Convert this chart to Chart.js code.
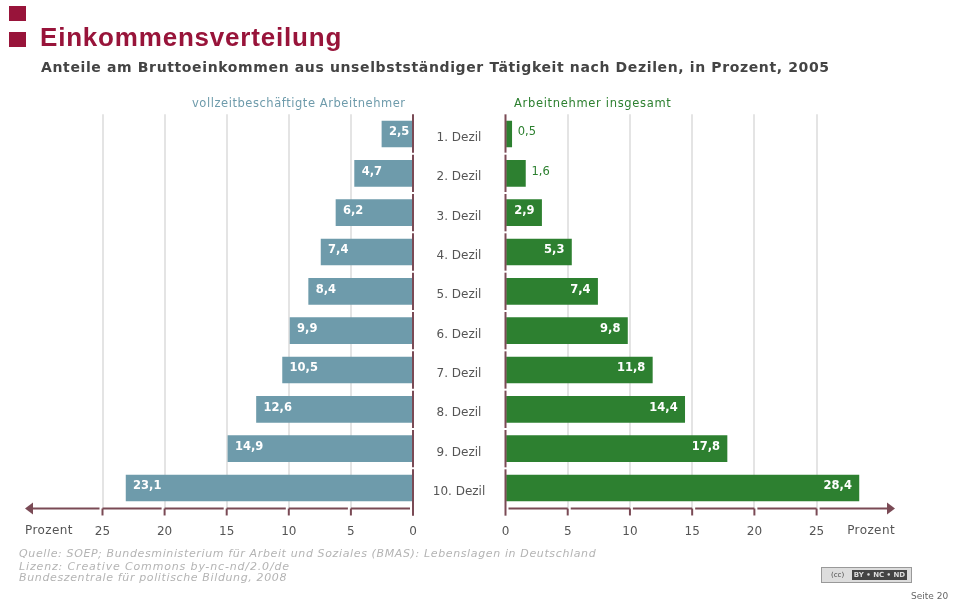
<!DOCTYPE html>
<html lang="de">
<head>
<meta charset="utf-8">
<title>Einkommensverteilung</title>
<script src="https://cdn.jsdelivr.net/npm/chart.js@4/dist/chart.umd.min.js"></script>
<style>
  html, body { margin: 0; padding: 0; background: #fff; }
  #page { position: relative; width: 953px; height: 602px; overflow: hidden; font-family: "DejaVu Sans", sans-serif; filter: blur(0.6px); }
  #page > * { position: absolute; white-space: nowrap; }
  .square { left: 9px; width: 17px; height: 15px; background: #98143a; }
  #title { left: 40px; top: 22px; font: bold 26px "Liberation Sans", sans-serif; letter-spacing: 0.8px; color: #98143a; }
  #subtitle { left: 41px; top: 59px; font-weight: bold; font-size: 14px; letter-spacing: 0.63px; color: #444; }
  .head { top: 96px; font-size: 11.5px; letter-spacing: 0.55px; }
  .source { left: 19px; font-style: italic; font-size: 11px; letter-spacing: 0.63px; color: #b4b4b4; }
  #badge { left: 821px; top: 567px; width: 89px; height: 14px; border: 1px solid #999; background: #ddd; font-size: 7px; line-height: 14px; color: #444; }
  #badge b { position: absolute; left: 30px; top: 2px; width: 55px; height: 10px; line-height: 10px; background: #444; color: #ddd; text-align: center; }
  #badge span { position: absolute; left: 9px; top: 0; }
  #page_no { left: 911px; top: 591px; font-size: 9px; color: #666; }
  canvas { display: block; }
</style>
</head>
<body>
<div id="page">
  <div class="square" style="top:6px"></div>
  <div class="square" style="top:32px"></div>
  <div id="title">Einkommensverteilung</div>
  <div id="subtitle">Anteile am Bruttoeinkommen aus unselbstständiger Tätigkeit nach Dezilen, in Prozent, 2005</div>
  <div class="head" style="left:192px;color:#6e9bab">vollzeitbeschäftigte Arbeitnehmer</div>
  <div class="head" style="left:514px;color:#2d8030;letter-spacing:0.68px">Arbeitnehmer insgesamt</div>
  <canvas id="rightChart" width="493" height="440" style="position:absolute;left:460px;top:100px"></canvas>
  <canvas id="leftChart" width="495" height="440" style="position:absolute;left:0;top:100px"></canvas>
  <div class="source" style="top:547px">Quelle: SOEP; Bundesministerium für Arbeit und Soziales (BMAS): Lebenslagen in Deutschland</div>
  <div class="source" style="top:560px;letter-spacing:0.85px">Lizenz: Creative Commons by-nc-nd/2.0/de</div>
  <div class="source" style="top:571px">Bundeszentrale für politische Bildung, 2008</div>
  <div id="badge"><span>(cc)</span><b>BY • NC • ND</b></div>
  <div id="page_no">Seite 20</div>
</div>
<script>
const deciles = ['1. Dezil', '2. Dezil', '3. Dezil', '4. Dezil', '5. Dezil', '6. Dezil', '7. Dezil', '8. Dezil', '9. Dezil', '10. Dezil'];
const fullTime = [2.5, 4.7, 6.2, 7.4, 8.4, 9.9, 10.5, 12.6, 14.9, 23.1];
const allEmployees = [0.5, 1.6, 2.9, 5.3, 7.4, 9.8, 11.8, 14.4, 17.8, 28.4];
const tickValues = [0, 5, 10, 15, 20, 25];
const axisUnit = 'Prozent';

const MAROON = '#7a4a55';
const BLUE = '#6e9bab';
const GREEN = '#2d8030';

// axis lines, arrows, value labels and decile names are not built in, so draw them here
const decorate = {
  id: 'decorate',
  afterDatasetsDraw(chart, args, opts) {
    const ctx = chart.ctx;
    const x = chart.scales.x;
    const y = chart.scales.y;
    const area = chart.chartArea;
    const dir = opts.side === 'left' ? -1 : 1;
    const axisY = area.bottom + 0.8;
    ctx.save();
    ctx.strokeStyle = MAROON;
    ctx.fillStyle = MAROON;
    ctx.lineWidth = 2;

    // zero line with small gaps between the bands
    const zero = x.getPixelForValue(0);
    let from = area.top;
    deciles.forEach((d, i) => {
      const to = i < deciles.length - 1 ? (y.getPixelForValue(i) + y.getPixelForValue(i + 1)) / 2 - 1 : area.bottom + 8;
      ctx.beginPath();
      ctx.moveTo(zero, from);
      ctx.lineTo(zero, to);
      ctx.stroke();
      from = to + 2;
    });

    // tick marks and the pieces of the axis
    tickValues.forEach((t, i) => {
      const px = x.getPixelForValue(t);
      if (t > 0) {
        ctx.beginPath();
        ctx.moveTo(px, axisY);
        ctx.lineTo(px, axisY + 7);
        ctx.stroke();
        const prev = x.getPixelForValue(tickValues[i - 1]);
        ctx.beginPath();
        ctx.moveTo(prev + dir * 3, axisY);
        ctx.lineTo(px, axisY);
        ctx.stroke();
      }
    });
    const last = x.getPixelForValue(tickValues[tickValues.length - 1]);
    const tip = x.getPixelForValue(x.max);
    ctx.beginPath();
    ctx.moveTo(last + dir * 3, axisY);
    ctx.lineTo(tip - dir * 6, axisY);
    ctx.stroke();
    ctx.beginPath();
    ctx.moveTo(tip, axisY);
    ctx.lineTo(tip - dir * 8, axisY - 6);
    ctx.lineTo(tip - dir * 8, axisY + 6);
    ctx.closePath();
    ctx.fill();

    // unit label
    ctx.font = '12px "DejaVu Sans"';
    ctx.letterSpacing = '0.4px';
    ctx.fillStyle = '#555';
    ctx.textBaseline = 'middle';
    ctx.textAlign = opts.side === 'left' ? 'left' : 'right';
    ctx.fillText(axisUnit, tip, axisY + 22);
    ctx.letterSpacing = '0px';

    // value labels
    const meta = chart.getDatasetMeta(0);
    const values = chart.data.datasets[0].data;
    meta.data.forEach((bar, i) => {
      const text = values[i].toFixed(1).replace('.', ',');
      const outside = values[i] < 2;
      ctx.font = (outside ? '' : 'bold ') + '11.5px "DejaVu Sans"';
      ctx.fillStyle = outside ? GREEN : '#fff';
      ctx.textAlign = (dir < 0 || outside) ? 'left' : 'right';
      const tx = outside ? bar.x + 6 : bar.x - dir * 7;
      ctx.fillText(text, tx, bar.y - 1.5);
    });

    // decile names sit between the two charts, drawn from the left chart
    if (opts.side === 'left') {
      ctx.font = '12px "DejaVu Sans"';
      ctx.fillStyle = '#555';
      ctx.textAlign = 'center';
      deciles.forEach((d, i) => {
        ctx.fillText(d, 459, y.getPixelForValue(i) + 4);
      });
    }
    ctx.restore();
  }
};

function buildChart(id, values, color, side, padding, max) {
  return new Chart(document.getElementById(id), {
    type: 'bar',
    data: {
      labels: deciles,
      datasets: [{ data: values, backgroundColor: color, barThickness: 26 }]
    },
    plugins: [decorate],
    options: {
      indexAxis: 'y',
      responsive: false,
      animation: false,
      layout: { padding: padding },
      scales: {
        x: {
          min: 0,
          max: max,
          reverse: side === 'left',
          afterFit(scale) { scale.height = 32.33; },
          afterBuildTicks(scale) { scale.ticks = tickValues.map(v => ({ value: v })); },
          border: { display: false },
          grid: {
            drawTicks: false,
            lineWidth: 2,
            color: c => c.tick && c.tick.value === 0 ? 'transparent' : '#e4e4e4'
          },
          ticks: {
            padding: 17,
            maxRotation: 0,
            autoSkip: false,
            color: '#555',
            font: { family: '"DejaVu Sans"', size: 12 }
          }
        },
        y: { display: false }
      },
      plugins: {
        legend: { display: false },
        tooltip: { enabled: false },
        decorate: { side: side }
      }
    }
  });
}

buildChart('leftChart', fullTime, BLUE, 'left', { top: 14.33, left: 25, right: 82, bottom: 0 }, 31.24);
buildChart('rightChart', allEmployees, GREEN, 'right', { top: 14.33, left: 45.5, right: 58, bottom: 0 }, 31.3);
</script>
</body>
</html>
